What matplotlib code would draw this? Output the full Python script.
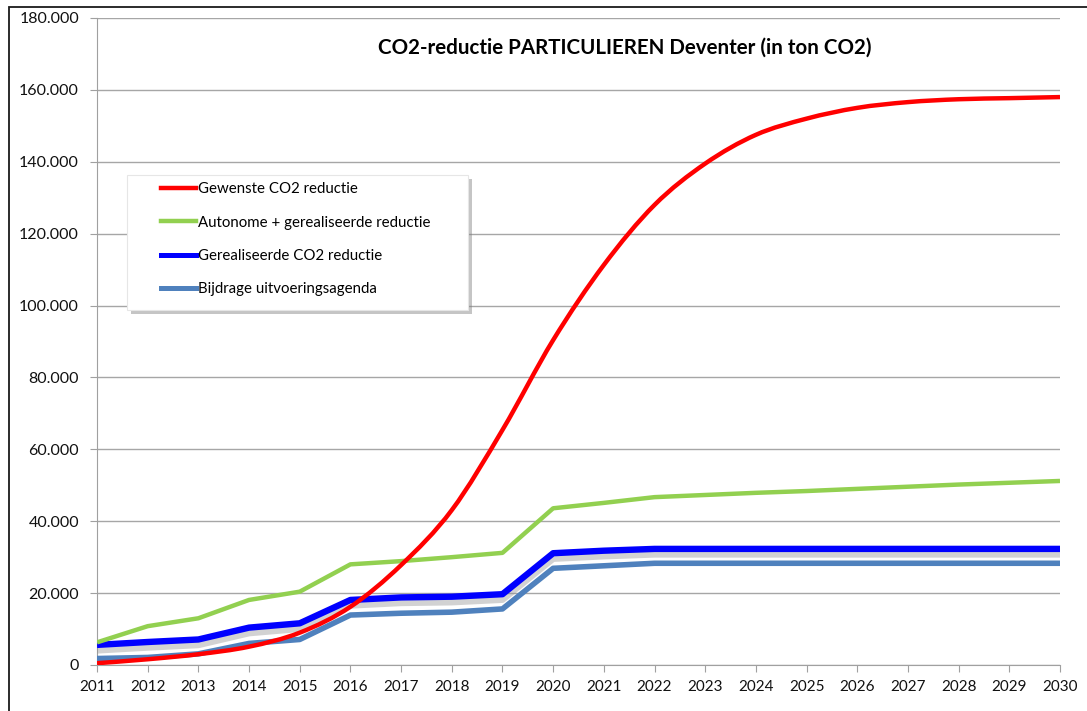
import numpy as np
import matplotlib
matplotlib.use("Agg")
import matplotlib.pyplot as plt
import matplotlib.patheffects as pe
from matplotlib.path import Path
from matplotlib.patches import PathPatch, Rectangle
from matplotlib.lines import Line2D
from matplotlib.ticker import FuncFormatter

plt.rcParams['font.family'] = ['Lato', 'DejaVu Sans']

years = list(range(2011, 2031))

gewenst = [500, 1600, 3000, 5100, 9000, 16200, 27800, 43100, 65400, 90400,
           111300, 128000, 139500, 147500, 152000, 155000, 156600, 157400, 157700, 158000]
autonoom = [6300, 10800, 13000, 18100, 20400, 28000, 28900, 30000, 31200, 43600,
            45100, 46700, 47300, 47900, 48400, 49000, 49600, 50200, 50700, 51200]
gerealiseerd = [5600, 6400, 7100, 10400, 11600, 18100, 18800, 19000, 19700, 31100,
                31800, 32300, 32300, 32300, 32300, 32300, 32300, 32300, 32300, 32300]
bijdrage = [1800, 2100, 3100, 6000, 7100, 13900, 14400, 14700, 15600, 26900,
            27600, 28300, 28300, 28300, 28300, 28300, 28300, 28300, 28300, 28300]

labels = ["Gewenste CO2 reductie", "Autonome + gerealiseerde reductie",
          "Gerealiseerde CO2 reductie", "Bijdrage uitvoeringsagenda"]
title = "CO2-reductie PARTICULIEREN Deventer (in ton CO2)"

RED = "#FF0000"
GREEN = "#92D050"
BLUE = "#0000FF"
STEEL = "#4F81BD"


def smooth_path(x, y):
    # excel-like smoothed line: catmull-rom segments as cubic bezier
    x = np.asarray(x, float)
    y = np.asarray(y, float)
    verts = [(x[0], y[0])]
    codes = [Path.MOVETO]
    n = len(x)
    for i in range(n - 1):
        x0, y0 = (x[i - 1], y[i - 1]) if i > 0 else (x[i], y[i])
        x3, y3 = (x[i + 2], y[i + 2]) if i + 2 < n else (x[i + 1], y[i + 1])
        c1 = (x[i] + (x[i + 1] - x0) / 6, y[i] + (y[i + 1] - y0) / 6)
        c2 = (x[i + 1] - (x3 - x[i]) / 6, y[i + 1] - (y3 - y[i]) / 6)
        verts += [c1, c2, (x[i + 1], y[i + 1])]
        codes += [Path.CURVE4] * 3
    return Path(verts, codes)


W, H = 1087, 711
fig = plt.figure(figsize=(W / 100, H / 100), dpi=100)
fig.patches.append(Rectangle((9 / W, -0.1), 1.2, 1 - 6.5 / H + 0.1,
                             transform=fig.transFigure, fill=False,
                             edgecolor="#1a1a1a", lw=1.3))
ax = fig.add_axes([97 / W, 46 / H, 963 / W, 647 / H])

shadow = [pe.SimpleLineShadow(offset=(0, -4), shadow_color="#909090", alpha=0.4), pe.Normal()]

ax.plot(years, bijdrage, color=STEEL, lw=4.0, solid_capstyle="butt", zorder=3)
ax.plot(years, gerealiseerd, color=BLUE, lw=4.6, solid_capstyle="butt",
        path_effects=shadow, zorder=4)
ax.plot(years, autonoom, color=GREEN, lw=3.2, solid_capstyle="butt", zorder=5)
ax.add_patch(PathPatch(smooth_path(years, gewenst), fill=False, edgecolor=RED,
                       lw=3.2, capstyle="butt", zorder=6))

ax.set_xlim(2011, 2030)
ax.set_ylim(0, 180000)
ax.set_xticks(years)
ax.set_yticks(range(0, 180001, 20000))
ax.yaxis.set_major_formatter(FuncFormatter(lambda v, p: f"{int(v):,}".replace(",", ".")))
ax.grid(axis="y", color="#A6A6A6", lw=1)
ax.set_axisbelow(True)
for s in ["top", "right"]:
    ax.spines[s].set_visible(False)
for s in ["left", "bottom"]:
    ax.spines[s].set_color("#A0A0A0")
ax.tick_params(axis="both", color="#A0A0A0", length=5, labelsize=11.5, labelcolor="#111111")
ax.tick_params(axis="x", pad=6, labelsize=11)
ax.tick_params(axis="y", pad=8)

fig.text(625 / W, 1 - 48 / H, title, ha="center", va="center",
         fontsize=14.8, fontweight="bold")

# legend box (excel style: wide padding, soft shadow)
box = Rectangle((127 / W, 1 - 310 / H), 341 / W, 135 / H, transform=fig.transFigure,
                facecolor="white", edgecolor="#E6E6E6", lw=0.8, zorder=9,
                path_effects=[pe.SimplePatchShadow(offset=(3, -3), shadow_rgbFace="#808080", alpha=0.45),
                              pe.Normal()])
fig.patches.append(box)

handles = [Line2D([], [], color=c, lw=w) for c, w in
           [(RED, 3.2), (GREEN, 3.2), (BLUE, 3.6), (STEEL, 3.6)]]
leg = fig.legend(handles, labels, loc="upper left",
                 bbox_to_anchor=(161 / W, 1 - 182 / H),
                 frameon=False, fontsize=10.8, handlelength=2.3, handletextpad=0.15,
                 labelspacing=1.3, borderpad=0, borderaxespad=0)
leg.set_zorder(10)

fig.savefig("out.png", dpi=100)
